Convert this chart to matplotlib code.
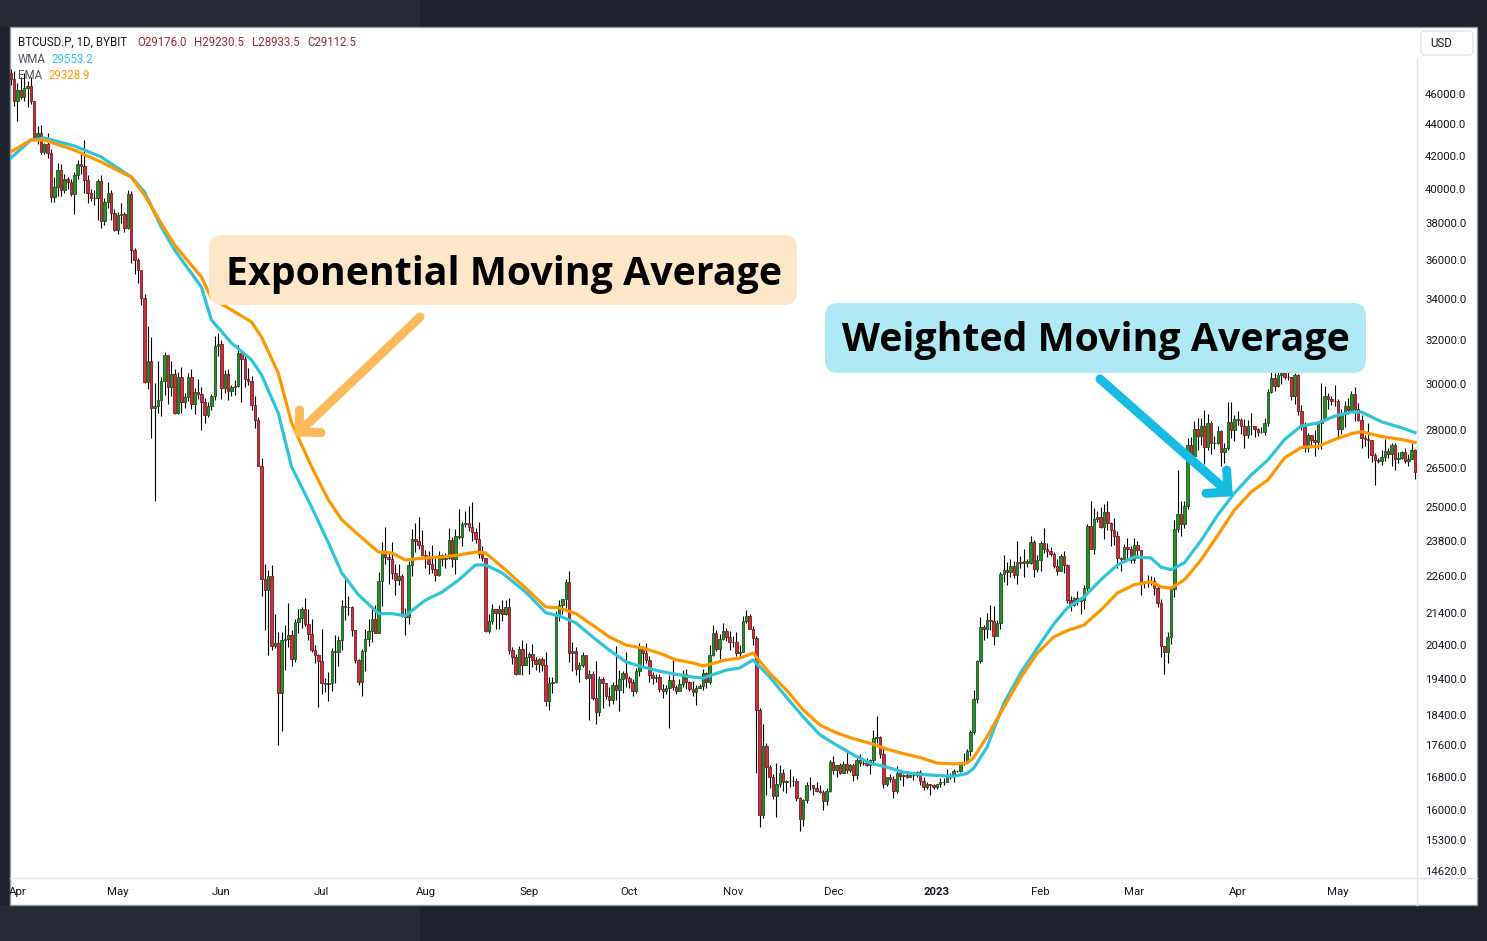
import numpy as np
import pandas as pd
import matplotlib
matplotlib.use("Agg")
import matplotlib.pyplot as plt
from matplotlib.patches import FancyBboxPatch, Rectangle
from matplotlib.ticker import FixedLocator, FixedFormatter, NullLocator

W, H, DPI = 1487, 941, 100

# BTCUSD.P daily candles, 2022-03-30 .. 2023-05-24
start_date = "2022-03-30"
first_open = 47430

closes = [
    47060, 45540,
    # Apr 2022
    46280, 45810, 46410, 46580, 45500, 43170, 43440, 42250, 42750, 42160,
    39530, 40080, 41150, 39940, 40550, 40380, 39680, 40800, 41500, 41370,
    40530, 39740, 39480, 39470, 40460, 38120, 39240, 39740, 38600, 37630,
    # May
    38470, 38530, 37750, 39690, 36550, 36010, 35470, 34060, 30080, 31020,
    28940, 29030, 29280, 30100, 31300, 29860, 30420, 28720, 30310, 29200,
    29430, 30320, 29100, 29650, 29540, 29200, 28630, 29030, 29470, 31730, 31800,
    # Jun
    29800, 30450, 29700, 29860, 29900, 31370, 31130, 30200, 30110, 29090,
    28420, 26570, 22490, 22140, 22580, 20380, 20470, 19010, 20550, 20570,
    20720, 19990, 21100, 21230, 21500, 21030, 20730, 20260, 20100, 19930,
    # Jul
    19290, 19250, 19300, 20230, 20190, 20550, 21620, 21590, 21590, 20850,
    19960, 19320, 20210, 20580, 20830, 21190, 20780, 22430, 23390, 23230,
    23150, 22680, 22450, 22580, 21310, 21250, 22950, 23840, 23780, 23640, 23300,
    # Aug
    23270, 22990, 22820, 22620, 23310, 23170, 23180, 23810, 23150, 23950,
    23940, 24400, 24440, 24300, 24100, 23850, 23340, 23200, 20830, 21140,
    21520, 21400, 21530, 21370, 21570, 20240, 20040, 19550, 20290, 19800, 20050,
    # Sep
    20130, 19950, 19830, 19990, 19800, 18790, 19290, 19320, 21360, 21650,
    21830, 22400, 20170, 20230, 19700, 19800, 20110, 19420, 19540, 18880,
    18480, 19400, 19290, 18930, 18800, 19220, 19080, 19410, 19590, 19420,
    # Oct
    19310, 19050, 19630, 20340, 20160, 19960, 19530, 19420, 19450, 19130,
    19060, 19160, 19380, 19180, 19070, 19270, 19550, 19330, 19130, 19040,
    19160, 19200, 19570, 19330, 20090, 20770, 20290, 20590, 20820, 20630, 20490,
    # Nov
    20480, 20160, 20200, 21150, 21300, 20900, 20600, 18540, 15880, 17590,
    17040, 16800, 16330, 16620, 16900, 16660, 16690, 16700, 16700, 16280,
    15780, 16230, 16600, 16600, 16520, 16460, 16430, 16210, 16440, 17170,
    # Dec
    16970, 17090, 16890, 17110, 16970, 17090, 16840, 17220, 17130, 17130,
    17090, 17210, 17780, 17800, 17360, 16630, 16780, 16740, 16440, 16900,
    16820, 16830, 16780, 16840, 16830, 16920, 16700, 16550, 16630, 16600, 16540,
    # Jan 2023
    16620, 16680, 16670, 16850, 16830, 16950, 16940, 17130, 17180, 17440,
    17940, 18850, 19930, 20950, 20880, 21180, 21130, 20680, 21080, 22670,
    22780, 22710, 22920, 22630, 23060, 23010, 23080, 23030, 23740, 22830, 23130,
    # Feb
    23730, 23490, 23430, 23330, 22940, 22760, 23260, 22960, 21800, 21630,
    21860, 21780, 21790, 22200, 24330, 23520, 24570, 24630, 24300, 24840,
    24440, 24190, 23950, 23190, 23160, 23560, 23490, 23140,
    # Mar
    23650, 23470, 22360, 22350, 22430, 22410, 22200, 21700, 20360, 20190,
    20630, 22160, 24200, 24750, 24380, 25050, 27420, 26970, 28040, 27770,
    28170, 27310, 28330, 27490, 27490, 27990, 27140, 27270, 28350, 28030, 28480,
    # Apr
    28450, 28200, 27800, 28170, 28170, 28040, 27930, 27950, 28330, 29650,
    30240, 29890, 30400, 30490, 30320, 30320, 29450, 30390, 28820, 28250,
    27270, 27820, 27590, 27510, 28310, 28420, 29480, 29340, 29250, 29230,
    # May 1-24
    28070, 28680, 29030, 28850, 29530, 28900, 28450, 27690, 27630, 27620,
    26990, 26800, 26780, 26930, 27170, 27030, 27400, 26830, 26890, 27120,
    26750, 26850, 27220, 26330,
]

highs = [
    47700, 47600,
    46720, 47200, 47450, 46880, 47200, 45520, 43900, 43970, 42800, 43420,
    42420, 40700, 41550, 41470, 40850, 40700, 40600, 41000, 41760, 42200,
    42980, 40800, 39990, 39910, 40600, 40800, 39460, 40380, 39920, 38800,
    38670, 39160, 38630, 39900, 39840, 36650, 36130, 35500, 34250, 32650,
    32150, 30020, 31000, 30300, 31440, 31300, 31000, 30650, 30540, 30760,
    29600, 30460, 30650, 29830, 30200, 29860, 29380, 29220, 29550, 32200, 32350,
    31980, 30630, 30680, 29950, 30160, 31760, 31550, 31320, 30700, 30330,
    29440, 28550, 26880, 23000, 22800, 22950, 21350, 20800, 20800, 21000,
    21700, 20870, 21200, 21520, 21590, 21870, 21500, 21190, 20400, 20140,
    20880, 19420, 19620, 20300, 20700, 20660, 21800, 22500, 21940, 21600,
    20870, 20000, 20270, 20880, 21200, 21580, 21650, 22730, 23750, 24280,
    23400, 23740, 22990, 23000, 22640, 21560, 23100, 24200, 24440, 24660, 24170,
    23480, 23450, 23640, 23220, 23450, 23350, 23380, 24240, 23920, 24200,
    24920, 24450, 24880, 25050, 25200, 24230, 24450, 23600, 23200, 21360,
    21690, 21500, 21650, 21800, 21810, 21860, 20330, 20120, 20360, 20560, 20460,
    20200, 20440, 20050, 20010, 20050, 20180, 19460, 19450, 21450, 21800,
    21850, 22480, 22750, 20490, 20330, 19900, 20190, 20110, 19650, 19630,
    19920, 19480, 19470, 19300, 19180, 19320, 20360, 19670, 19640, 20180,
    19480, 19400, 19710, 20460, 20370, 20450, 20060, 19600, 19540, 19540,
    19260, 19220, 19510, 19960, 19220, 19400, 19670, 19700, 19340, 19340,
    19240, 19260, 19690, 19600, 20400, 21000, 20860, 20740, 21080, 20930, 20840,
    20680, 20800, 20390, 21300, 21470, 21350, 20980, 20670, 18590, 18150,
    17650, 17080, 16870, 17150, 17100, 17000, 16720, 17000, 16820, 16760,
    16300, 16250, 16680, 16800, 16600, 16660, 16600, 16480, 16520, 17230,
    17320, 17100, 17150, 17200, 17420, 17110, 17140, 17300, 17360, 17230,
    17260, 17240, 18000, 18370, 17850, 17530, 16800, 16870, 16820, 17060,
    16910, 16870, 16950, 16870, 16860, 16940, 16960, 16790, 16660, 16630, 16630,
    16630, 16770, 16760, 17000, 16880, 17000, 16970, 17170, 17400, 17490,
    17990, 19100, 19970, 21260, 21000, 21400, 21650, 21620, 21180, 22730,
    23300, 23050, 23150, 23100, 23790, 23260, 23500, 23170, 23950, 23810, 23300,
    23800, 24250, 23700, 23580, 23420, 23160, 23350, 23450, 23000, 21930,
    21900, 22080, 21890, 22300, 24380, 25250, 24980, 24870, 25000, 25120,
    25250, 24470, 24600, 24140, 23220, 23690, 23880, 23600,
    23880, 23790, 23480, 22420, 22620, 22600, 22560, 22270, 21820, 20330,
    20800, 22180, 24550, 26400, 25250, 25220, 27700, 27750, 28400, 28500,
    28500, 28850, 28700, 28390, 27760, 28200, 28030, 27480, 29180, 29180, 28630,
    28800, 28530, 28480, 28440, 28750, 28180, 28100, 28150, 28530, 29770,
    30550, 30470, 30600, 31050, 30620, 30560, 30320, 30480, 30420, 29080,
    28370, 27880, 27820, 28000, 28390, 30020, 29880, 29600, 29450, 29960,
    29330, 28880, 29260, 29380, 29670, 29840, 29160, 28630, 27830, 28320,
    27620, 27070, 26900, 27200, 27650, 27270, 27480, 27480, 27140, 27150,
    27270, 27050, 27480, 27230,
]

lows = [
    46600, 45200,
    44200, 45650, 45530, 45120, 45350, 43120, 42730, 42120, 42130, 41880,
    39200, 39250, 39560, 39570, 39770, 40010, 39550, 38540, 40570, 40850,
    39760, 39180, 39300, 39030, 38210, 37750, 37900, 38880, 38200, 37590,
    37390, 38050, 37530, 37670, 35860, 35270, 34780, 33710, 30040, 29750,
    27700, 25250, 28750, 28600, 29500, 29100, 29480, 28670, 28700, 28740,
    28950, 29250, 28880, 28670, 29340, 28000, 28300, 28550, 28850, 29300, 31230,
    29340, 29600, 29280, 29470, 29500, 29870, 29220, 29850, 29950, 28860,
    28100, 26560, 21930, 20850, 20100, 20250, 20300, 17600, 17970, 19650,
    20350, 19770, 19900, 20780, 20910, 20980, 20540, 20200, 19860, 18620,
    18980, 19030, 18780, 19060, 19300, 19780, 20250, 21180, 21330, 20660,
    19880, 19240, 18910, 19630, 20380, 20480, 20760, 20760, 21600, 23000,
    22320, 22500, 21960, 22300, 21270, 20720, 21040, 22590, 23400, 23500, 23260,
    22850, 22670, 22690, 22430, 22590, 22940, 22850, 23150, 22880, 22660,
    23870, 23600, 24300, 24150, 23780, 23700, 23200, 23100, 20800, 20770,
    21050, 20900, 20890, 21150, 21320, 20140, 19830, 19530, 19550, 19530, 19800,
    19560, 19760, 19650, 19600, 19640, 18650, 18540, 19020, 19300, 21130,
    21360, 21550, 19900, 19630, 19530, 19330, 19750, 19390, 18270, 18800,
    18150, 18380, 18600, 18850, 18650, 18690, 18820, 18500, 19000, 19170,
    19160, 18920, 19000, 19500, 19760, 19860, 19330, 19260, 19320, 19030,
    18880, 18990, 18050, 19080, 18980, 19060, 19170, 19120, 19070, 18930,
    18670, 19140, 19080, 19160, 19250, 20060, 20230, 20000, 20560, 20520, 20250,
    20340, 20060, 20050, 20180, 21080, 20890, 20400, 16900, 15590, 15800,
    16360, 16520, 16250, 15830, 16550, 16450, 16400, 16550, 16580, 16210,
    15500, 15620, 16170, 16470, 16360, 16420, 16400, 15990, 16120, 16430,
    16870, 16790, 16870, 16880, 16880, 16910, 16690, 16740, 17060, 17090,
    17070, 16870, 17080, 17660, 17280, 16530, 16580, 16680, 16290, 16400,
    16730, 16560, 16760, 16790, 16730, 16790, 16600, 16470, 16500, 16340, 16490,
    16500, 16550, 16600, 16660, 16750, 16680, 16910, 16910, 17100, 17160,
    17320, 17900, 18720, 19880, 20560, 20600, 20870, 20400, 20670, 20890,
    22400, 22300, 22560, 22510, 22330, 22860, 22540, 22880, 23000, 22550, 22720,
    22760, 23380, 23220, 23250, 22850, 22630, 22740, 22680, 21700, 21460,
    21600, 21630, 21370, 21530, 22050, 23520, 23350, 24450, 24230, 23870,
    24170, 23600, 23650, 22860, 22750, 23070, 23120, 23030,
    23020, 23200, 21980, 22200, 22210, 22280, 21950, 21590, 20050, 19550,
    19870, 20430, 21900, 24120, 23950, 24230, 24950, 26680, 26900, 27190,
    27400, 26650, 27220, 27030, 27230, 27450, 26580, 26680, 27220, 27700, 27550,
    28240, 27870, 27270, 27680, 27800, 27730, 27780, 27880, 27800, 28170,
    29610, 29700, 29870, 30000, 30230, 30180, 29270, 29120, 28640, 28010,
    27140, 27140, 27350, 26970, 27240, 27250, 28380, 28890, 29090, 29050,
    27680, 27870, 28130, 28700, 28800, 28400, 28390, 27300, 27350, 26880,
    26720, 25850, 26700, 26610, 26750, 26880, 26580, 26400, 26680, 26850,
    26690, 26550, 26830, 26080,
]

# moving average lines
ma_dates = [
    "2022-03-30", "2022-04-05", "2022-04-09", "2022-04-18", "2022-04-26",
    "2022-05-05", "2022-05-09", "2022-05-14", "2022-05-18", "2022-05-26",
    "2022-05-29", "2022-06-04", "2022-06-10", "2022-06-13", "2022-06-18",
    "2022-06-22", "2022-06-28", "2022-07-03", "2022-07-07", "2022-07-12",
    "2022-07-18", "2022-07-22", "2022-07-26", "2022-08-01", "2022-08-06",
    "2022-08-11", "2022-08-16", "2022-08-19", "2022-08-24", "2022-08-31",
    "2022-09-06", "2022-09-10", "2022-09-15", "2022-09-20", "2022-09-25",
    "2022-09-30", "2022-10-05", "2022-10-10", "2022-10-15", "2022-10-20",
    "2022-10-23", "2022-10-30", "2022-11-03", "2022-11-07", "2022-11-12",
    "2022-11-17", "2022-11-22", "2022-11-27", "2022-12-02", "2022-12-07",
    "2022-12-12", "2022-12-17", "2022-12-22", "2022-12-27", "2023-01-01",
    "2023-01-06", "2023-01-10", "2023-01-12", "2023-01-16", "2023-01-21",
    "2023-01-26", "2023-01-31", "2023-02-05", "2023-02-09", "2023-02-14",
    "2023-02-19", "2023-02-24", "2023-03-01", "2023-03-06", "2023-03-09",
    "2023-03-12", "2023-03-16", "2023-03-21", "2023-03-26", "2023-03-31",
    "2023-04-05", "2023-04-10", "2023-04-15", "2023-04-20", "2023-04-25",
    "2023-04-30", "2023-05-05", "2023-05-08", "2023-05-14", "2023-05-20",
    "2023-05-24",
]
ema_values = [
    42230, 42980, 42980, 42350, 41610, 40700, 39630, 38000, 36810, 35120,
    34040, 33450, 32860, 32140, 30480, 28310, 26530, 25270, 24540, 24000,
    23400, 23370, 23130, 23200, 23230, 23300, 23400, 23370, 22890, 22190,
    21580, 21550, 21370, 21010, 20650, 20400, 20310, 20160, 19960, 19870,
    19780, 19960, 20010, 20160, 19570, 19090, 18540, 18130, 17920, 17770,
    17650, 17500, 17380, 17280, 17140, 17120, 17140, 17280, 17820, 18610,
    19430, 20160, 20650, 20840, 21010, 21480, 22030, 22300, 22400, 22230,
    22190, 22460, 23130, 23990, 24900, 25570, 26030, 26890, 27310, 27350,
    27630, 27870, 27950, 27750, 27630, 27510,
]
wma_values = [
    41850, 42980, 43110, 42610, 41920, 40700, 39810, 37800, 36540, 34600,
    32960, 31860, 31070, 30390, 28730, 26530, 25000, 23720, 22690, 21970,
    21370, 21370, 21300, 21800, 22060, 22460, 22960, 22960, 22690, 22060,
    21400, 21300, 21080, 20650, 20250, 19900, 19750, 19630, 19540, 19460,
    19430, 19660, 19720, 19960, 19460, 18890, 18350, 17870, 17600, 17350,
    17140, 17040, 16910, 16860, 16830, 16810, 16880, 17010, 17550, 18720,
    19570, 20310, 21050, 21550, 21900, 22460, 22960, 23230, 23200, 22890,
    22800, 23030, 23800, 24720, 25530, 26220, 26810, 27630, 28190, 28310,
    28600, 28770, 28770, 28360, 28110, 27910,
]

price_ticks = [46000, 44000, 42000, 40000, 38000, 36000, 34000, 32000, 30000,
               28000, 26500, 25000, 23800, 22600, 21400, 20400, 19400, 18400,
               17600, 16800, 16000, 15300, 14620]
month_starts = ["2022-04-01", "2022-05-01", "2022-06-01", "2022-07-01",
                "2022-08-01", "2022-09-01", "2022-10-01", "2022-11-01",
                "2022-12-01", "2023-01-01", "2023-02-01", "2023-03-01",
                "2023-04-01", "2023-05-01"]
month_labels = ["Apr", "May", "Jun", "Jul", "Aug", "Sep", "Oct", "Nov", "Dec",
                "2023", "Feb", "Mar", "Apr", "May"]

UP, UP_EDGE = "#279128", "#17561a"
DOWN, DOWN_EDGE = "#c9313b", "#7d1a20"
EMA_COLOR, WMA_COLOR = "#ff9800", "#2ec5da"
TEXT = "#131722"


def arrow(ax, start, tip, color, lw=6.5, head=22):
    x0, y0 = start
    x1, y1 = tip
    ax.plot([x0, x1], [y0, y1], color=color, lw=lw, solid_capstyle="round", zorder=6)
    back = np.array([x0 - x1, y0 - y1], float)
    back /= np.hypot(*back)
    for ang in (np.pi / 4, -np.pi / 4):
        ca, sa = np.cos(ang), np.sin(ang)
        d = np.array([back[0] * ca - back[1] * sa, back[0] * sa + back[1] * ca])
        ax.plot([x1, x1 + head * d[0]], [y1, y1 + head * d[1]], color=color, lw=lw,
                solid_capstyle="round", zorder=6)


def main():
    plt.rcParams["font.family"] = ["Roboto", "DejaVu Sans"]

    n = len(closes)
    print("candles:", n, len(highs), len(lows), "ma:", len(ma_dates), len(ema_values), len(wma_values))
    o = np.array([first_open] + closes[:-1], float)
    c = np.array(closes, float)
    h = np.maximum(np.array(highs, float), np.maximum(o, c))
    l = np.minimum(np.array(lows, float), np.minimum(o, c))
    days = np.arange(n)
    t0 = pd.Timestamp(start_date)
    ma_x = [(pd.Timestamp(d) - t0).days for d in ma_dates]
    month_x = [(pd.Timestamp(d) - t0).days for d in month_starts]

    fig = plt.figure(figsize=(W / DPI, H / DPI), dpi=DPI)
    fig.patch.set_facecolor("#1e222d")

    # background: dark frame and white chart panel, in pixel coords
    bg = fig.add_axes([0, 0, 1, 1], zorder=0)
    bg.set_xlim(0, W)
    bg.set_ylim(H, 0)
    bg.axis("off")
    bg.add_patch(Rectangle((0, 0), 420, 27, color="#262a34", lw=0))
    bg.add_patch(Rectangle((0, 905), 420, 36, color="#262a34", lw=0))
    panel = Rectangle((10, 27), 1467, 878, facecolor="white", edgecolor="#9598a1", lw=1)
    bg.add_patch(panel)
    bg.plot([1417, 1417], [59, 905], color="#e0e3eb", lw=1)
    bg.plot([10, 1477], [878, 878], color="#e0e3eb", lw=1)

    # price chart
    ax = fig.add_axes([10 / W, 1 - 878 / H, 1407 / W, 851 / H], zorder=1)
    ax.patch.set_alpha(0)
    ax.set_yscale("log")
    up = c >= o
    lo_b, hi_b = np.minimum(o, c), np.maximum(o, c)
    ax.vlines(days, l, h, color="black", lw=0.8, zorder=2)
    ax.bar(days[up], hi_b[up] - lo_b[up], bottom=lo_b[up], width=0.74,
           color=UP, edgecolor=UP_EDGE, lw=0.6, zorder=3)
    ax.bar(days[~up], hi_b[~up] - lo_b[~up], bottom=lo_b[~up], width=0.74,
           color=DOWN, edgecolor=DOWN_EDGE, lw=0.6, zorder=3)
    ax.plot(ma_x, wma_values, color=WMA_COLOR, lw=2.3, solid_joinstyle="round", zorder=4)
    ax.plot(ma_x, ema_values, color=EMA_COLOR, lw=2.3, solid_joinstyle="round", zorder=4)

    ax.set_xlim(-0.24, 420.6)
    ax.set_ylim(14467, 50780)
    ax.yaxis.tick_right()
    ax.yaxis.set_major_locator(FixedLocator(price_ticks))
    ax.yaxis.set_major_formatter(FixedFormatter([f"{v:.1f}" for v in price_ticks]))
    ax.yaxis.set_minor_locator(NullLocator())
    ax.set_xticks(month_x)
    ax.set_xticklabels(month_labels)
    ax.tick_params(axis="y", length=0, pad=5.8, labelsize=8.2, labelcolor=TEXT)
    ax.tick_params(axis="x", length=0, pad=6.6, labelsize=8.2, labelcolor=TEXT)
    for lbl in ax.get_xticklabels():
        lbl.set_clip_path(panel)
        if lbl.get_text() == "2023":
            lbl.set_fontweight("bold")
    for s in ax.spines.values():
        s.set_visible(False)

    # overlay: legend, currency button, callouts
    ov = fig.add_axes([0, 0, 1, 1], zorder=2)
    ov.set_xlim(0, W)
    ov.set_ylim(H, 0)
    ov.axis("off")
    ov.patch.set_alpha(0)

    fs = 8.3
    ov.text(18, 42, "BTCUSD.P, 1D, BYBIT", color=TEXT, fontsize=fs, va="center")
    ohlc_red = "#9a2c36"
    for x, s in [(137, "O29176.0"), (194, "H29230.5"), (252, "L28933.5"), (307, "C29112.5")]:
        ov.text(x, 42, s, color=ohlc_red, fontsize=fs, va="center")
    ov.text(18, 59, "WMA", color="#50535e", fontsize=fs, va="center")
    ov.text(51, 59, "29553.2", color=WMA_COLOR, fontsize=fs, va="center")
    ov.text(18, 75, "EMA", color="#50535e", fontsize=fs, va="center")
    ov.text(48, 75, "29328.9", color=EMA_COLOR, fontsize=fs, va="center")

    ov.add_patch(FancyBboxPatch((1421, 31), 52, 24, boxstyle="round,pad=0,rounding_size=4",
                                facecolor="white", edgecolor="#e0e3eb", lw=1))
    ov.text(1430, 43.5, "USD", color=TEXT, fontsize=fs, va="center")

    ov.add_patch(FancyBboxPatch((209, 235), 588, 70, boxstyle="round,pad=0,rounding_size=13",
                                facecolor="#fee6c8", edgecolor="none", zorder=5))
    ov.text(504, 274, "Exponential Moving Average", family=["Open Sans", "DejaVu Sans"],
            fontweight="bold", fontsize=28.3, color="black", ha="center", va="center", zorder=7)
    ov.add_patch(FancyBboxPatch((825, 303), 541, 70, boxstyle="round,pad=0,rounding_size=13",
                                facecolor="#afe9f5", edgecolor="none", zorder=5))
    ov.text(1096, 341, "Weighted Moving Average", family=["Open Sans", "DejaVu Sans"],
            fontweight="bold", fontsize=28.3, color="black", ha="center", va="center", zorder=7)

    arrow(ov, (420, 317), (299, 432), "#fdba5b")
    arrow(ov, (1100, 379), (1228, 492), "#16bde0")

    fig.savefig("out.png", dpi=DPI, facecolor=fig.get_facecolor())


if __name__ == "__main__":
    main()
